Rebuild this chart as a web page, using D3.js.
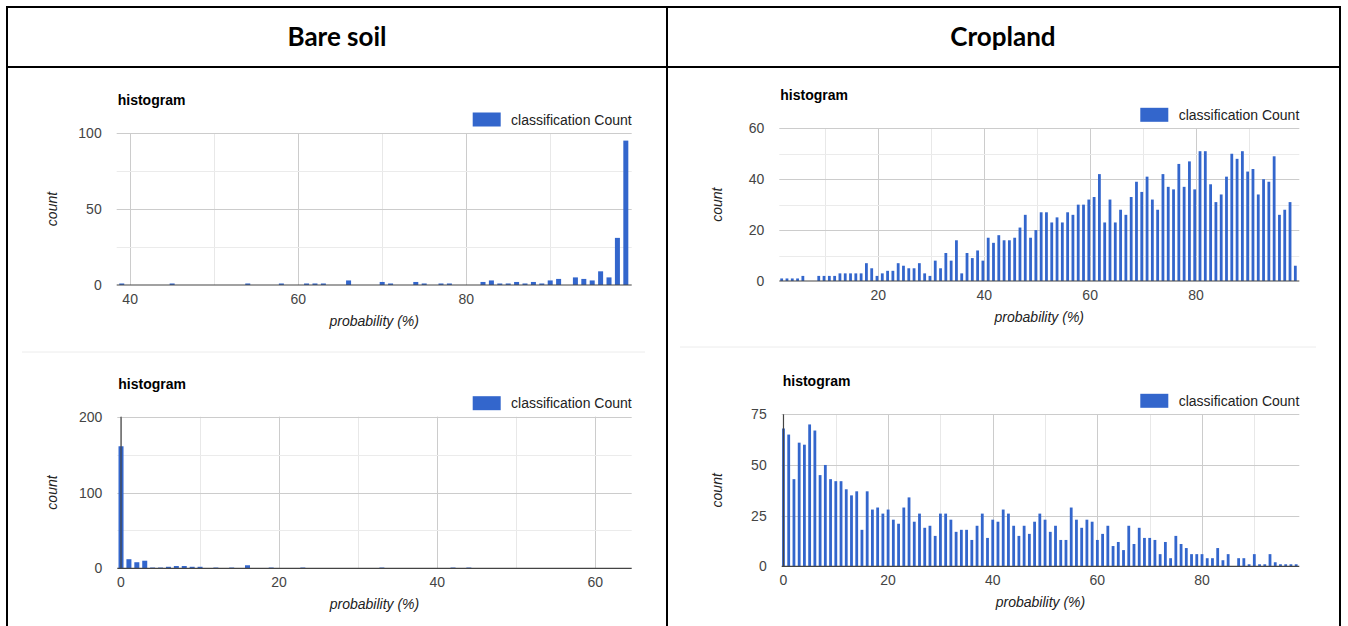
<!DOCTYPE html>
<html>
<head>
<meta charset="utf-8">
<script src="https://cdn.jsdelivr.net/npm/d3@7/dist/d3.min.js"></script>
<style>
  html, body { margin: 0; padding: 0; background: #fff; }
  svg { display: block; }
</style>
</head>
<body>
<svg id="chart" width="1348" height="626"></svg>
<script>
// ---------------- DATA ----------------
const columnHeaders = ["Bare soil", "Cropland"];
const chartTitle = "histogram";
const legendLabel = "classification Count";
const xAxisTitle = "probability (%)";
const yAxisTitle = "count";

// Bare soil – top histogram
const bareTopProb  = [39,45,54,58,61,62,63,66,70,71,74,75,77,78,82,83,84,85,86,87,88,89,90,91,93,94,95,96,97,98,99];
const bareTopCount = [1,1,1,1,1,1,1,3,2,1,2,1,1,1,2,3,1,1,2,1,2,1,3,4,5,4,3,9,5,31,95];
const bareTopXTicks = [40,60,80];
const bareTopYTicks = [0,50,100];

// Bare soil – bottom histogram
const bareBotProb  = [0,1,2,3,4,5,6,7,8,9,10,12,14,16,19,23,33,42,44];
const bareBotCount = [161,12,8,10,1,1,2,3,3,2,2,1,1,4,1,1,1,1,1];
const bareBotXTicks = [0,20,40,60];
const bareBotYTicks = [0,100,200];

// Cropland – top histogram
const cropTopProb = [1.75,2.75,3.75,4.75,5.75,8.75,9.75,10.75,11.75,12.75,13.75,14.75,15.75,16.75,17.75,18.75,19.75,
  20.75,21.75,22.75,23.75,24.75,25.75,26.75,27.75,28.75,29.75,30.75,31.75,32.75,33.75,34.75,35.75,36.75,37.75,38.75,39.75,
  40.75,41.75,42.75,43.75,44.75,45.75,46.75,47.75,48.75,49.75,50.75,51.75,52.75,53.75,54.75,55.75,56.75,57.75,58.75,59.75,
  60.75,61.75,62.75,63.75,64.75,65.75,66.75,67.75,68.75,69.75,70.75,71.75,72.75,73.75,74.75,75.75,76.75,77.75,78.75,79.75,
  80.75,81.75,82.75,83.75,84.75,85.75,86.75,87.75,88.75,89.75,90.75,91.75,92.75,93.75,94.75,95.75,96.75,97.75,98.75];
const cropTopCount = [1,1,1,1,2,2,2,2,2,3,3,3,3,3,7,5,
  2,3,4,4,7,6,5,5,7,3,2,8,5,11,8,16,3,11,9,12,8,
  17,15,18,16,16,17,21,26,17,20,27,27,23,25,23,27,26,30,30,32,33,
  42,23,32,23,28,26,33,39,35,41,32,28,42,37,36,46,37,47,36,51,51,
  38,31,34,41,50,48,51,43,44,34,40,39,49,26,28,31,6];
const cropTopXTicks = [20,40,60,80];
const cropTopYTicks = [0,20,40,60];

// Cropland – bottom histogram
const cropBotProb = [0,1,2,3,4,5,6,7,8,9,10,11,12,13,14,15,16,17,18,19,20,21,22,23,24,25,26,27,28,29,30,31,32,33,34,35,36,37,38,39,
  40,41,42,43,44,45,46,47,48,49,50,51,52,53,54,55,56,57,58,59,60,61,62,63,64,65,66,67,68,69,70,71,72,73,74,75,76,77,78,79,
  80,81,82,83,84,85,87,88,89,90,91,92,93,94,95,96,97,98];
const cropBotCount = [68,65,43,61,60,70,67,45,50,43,42,42,38,35,37,18,37,28,29,26,28,23,21,29,34,22,26,19,20,15,26,26,23,17,18,18,13,20,26,14,
  23,22,28,26,20,15,20,16,22,26,23,17,20,13,13,29,23,19,23,22,13,16,20,10,12,8,20,11,19,14,14,13,6,12,4,15,11,9,6,6,
  6,4,4,9,3,6,4,4,1,6,1,1,6,2,1,1,1,1];
const cropBotXTicks = [0,20,40,60,80];
const cropBotYTicks = [0,25,50,75];

// ---------------- DRAWING ----------------
const svg = d3.select("#chart");
const BAR = "#3366cc";
const FONT = "'Liberation Sans', Arial, sans-serif";

// table frame
const frame = svg.append("g").attr("stroke", "#000").attr("stroke-width", 2);
frame.append("line").attr("x1", 6).attr("x2", 1341).attr("y1", 7).attr("y2", 7);
frame.append("line").attr("x1", 6).attr("x2", 1341).attr("y1", 67).attr("y2", 67);
frame.append("line").attr("x1", 7).attr("x2", 7).attr("y1", 6).attr("y2", 626);
frame.append("line").attr("x1", 667).attr("x2", 667).attr("y1", 6).attr("y2", 626);
frame.append("line").attr("x1", 1340).attr("x2", 1340).attr("y1", 6).attr("y2", 626);

// faint separators between stacked screenshots
svg.append("line").attr("x1", 22).attr("x2", 645).attr("y1", 352).attr("y2", 352).attr("stroke", "#ececec");
svg.append("line").attr("x1", 680).attr("x2", 1316).attr("y1", 347).attr("y2", 347).attr("stroke", "#ececec");

svg.selectAll("text.hdr").data(columnHeaders).enter().append("text")
  .attr("class", "hdr")
  .attr("x", (d, i) => i === 0 ? 337 : 1003)
  .attr("y", 46)
  .attr("text-anchor", "middle")
  .attr("font-family", "Lato, 'Open Sans', sans-serif")
  .attr("font-weight", "bold")
  .attr("font-size", 26)
  .attr("fill", "#000")
  .text(d => d);

function drawPanel(cfg) {
  const g = svg.append("g");
  const x = d3.scaleLinear().domain(cfg.xDomain).range([cfg.left, cfg.right]);
  const y = d3.scaleLinear().domain(cfg.yDomain).range([cfg.y0, cfg.yTop]);

  // vertical gridlines (every 10, labelled every 20)
  const vGrid = d3.range(Math.ceil(cfg.xDomain[0] / 10) * 10, cfg.xDomain[1], 10);
  g.selectAll("line.vg").data(vGrid).enter().append("line")
    .attr("x1", d => Math.round(x(d)) + 0.5).attr("x2", d => Math.round(x(d)) + 0.5)
    .attr("y1", cfg.yTop).attr("y2", cfg.y0)
    .attr("stroke", d => cfg.xTicks.includes(d) ? "#cccccc" : "#e8e8e8");

  // horizontal minor + major gridlines
  g.selectAll("line.hm").data(cfg.yMinor).enter().append("line")
    .attr("x1", cfg.left).attr("x2", cfg.right)
    .attr("y1", d => Math.round(y(d)) + 0.5).attr("y2", d => Math.round(y(d)) + 0.5)
    .attr("stroke", "#ebebeb");
  g.selectAll("line.hg").data(cfg.yTicks.filter(d => d !== 0)).enter().append("line")
    .attr("x1", cfg.left).attr("x2", cfg.right)
    .attr("y1", d => Math.round(y(d)) + 0.5).attr("y2", d => Math.round(y(d)) + 0.5)
    .attr("stroke", "#cccccc");

  // bars
  g.selectAll("rect.bar").data(cfg.xs.map((v, i) => [v, cfg.ys[i]])).enter().append("rect")
    .attr("x", d => x(d[0]) - cfg.barW / 2)
    .attr("width", cfg.barW)
    .attr("y", d => y(d[1]))
    .attr("height", d => y(0) - y(d[1]))
    .attr("fill", BAR);

  // baselines
  g.append("line").attr("x1", cfg.left).attr("x2", cfg.right)
    .attr("y1", y(0)).attr("y2", y(0)).attr("stroke", "#444").attr("stroke-width", 1.2);
  if (cfg.xDomain[0] < 0) {
    g.append("line").attr("x1", x(0)).attr("x2", x(0))
      .attr("y1", cfg.yTop).attr("y2", cfg.y0).attr("stroke", "#444").attr("stroke-width", 1.2);
  }

  // y tick labels
  g.selectAll("text.yt").data(cfg.yTicks).enter().append("text")
    .attr("x", cfg.left - 15).attr("y", d => y(d) + 5)
    .attr("text-anchor", "end").attr("font-family", FONT).attr("font-size", 14).attr("fill", "#444")
    .text(d => d);
  // x tick labels
  g.selectAll("text.xt").data(cfg.xTicks).enter().append("text")
    .attr("x", d => x(d)).attr("y", cfg.y0 + 19)
    .attr("text-anchor", "middle").attr("font-family", FONT).attr("font-size", 14).attr("fill", "#444")
    .text(d => d);

  // axis titles
  g.append("text").attr("x", (cfg.left + cfg.right) / 2).attr("y", cfg.y0 + 41)
    .attr("text-anchor", "middle").attr("font-family", FONT).attr("font-size", 14)
    .attr("font-style", "italic").attr("fill", "#222").text(xAxisTitle);
  g.append("text")
    .attr("transform", `translate(${cfg.countX},${(cfg.y0 + cfg.yTop) / 2}) rotate(-90)`)
    .attr("text-anchor", "middle").attr("font-family", FONT).attr("font-size", 14)
    .attr("font-style", "italic").attr("fill", "#222").text(yAxisTitle);

  // chart title
  g.append("text").attr("x", cfg.left + 1).attr("y", cfg.yTop - 28)
    .attr("font-family", FONT).attr("font-size", 14).attr("font-weight", "bold").attr("fill", "#000")
    .text(chartTitle);

  // legend
  g.append("rect").attr("x", cfg.right - 159).attr("y", cfg.yTop - 20.5)
    .attr("width", 28).attr("height", 14).attr("fill", BAR);
  g.append("text").attr("x", cfg.right).attr("y", cfg.yTop - 8.5)
    .attr("text-anchor", "end").attr("font-family", FONT).attr("font-size", 14).attr("fill", "#222")
    .text(legendLabel);
}

drawPanel({ xs: bareTopProb, ys: bareTopCount, xTicks: bareTopXTicks, yTicks: bareTopYTicks, yMinor: [25, 75],
  xDomain: [38.4, 99.7], yDomain: [0, 100], left: 116.7, right: 631.7, y0: 285, yTop: 133, barW: 5, countX: 57 });
drawPanel({ xs: bareBotProb, ys: bareBotCount, xTicks: bareBotXTicks, yTicks: bareBotYTicks, yMinor: [50, 150],
  xDomain: [-0.47, 64.6], yDomain: [0, 200], left: 117.3, right: 631.7, y0: 568.3, yTop: 416.7, barW: 5, countX: 57 });
drawPanel({ xs: cropTopProb, ys: cropTopCount, xTicks: cropTopXTicks, yTicks: cropTopYTicks, yMinor: [10, 30, 50],
  xDomain: [1.3, 99.5], yDomain: [0, 60], left: 779.3, right: 1299.3, y0: 281, yTop: 128.3, barW: 2.8, countX: 722 });
drawPanel({ xs: cropBotProb, ys: cropBotCount, xTicks: cropBotXTicks, yTicks: cropBotYTicks, yMinor: [],
  xDomain: [-0.34, 98.6], yDomain: [0, 75], left: 781.7, right: 1299.3, y0: 566.3, yTop: 414.3, barW: 2.8, countX: 722 });
</script>
</body>
</html>
